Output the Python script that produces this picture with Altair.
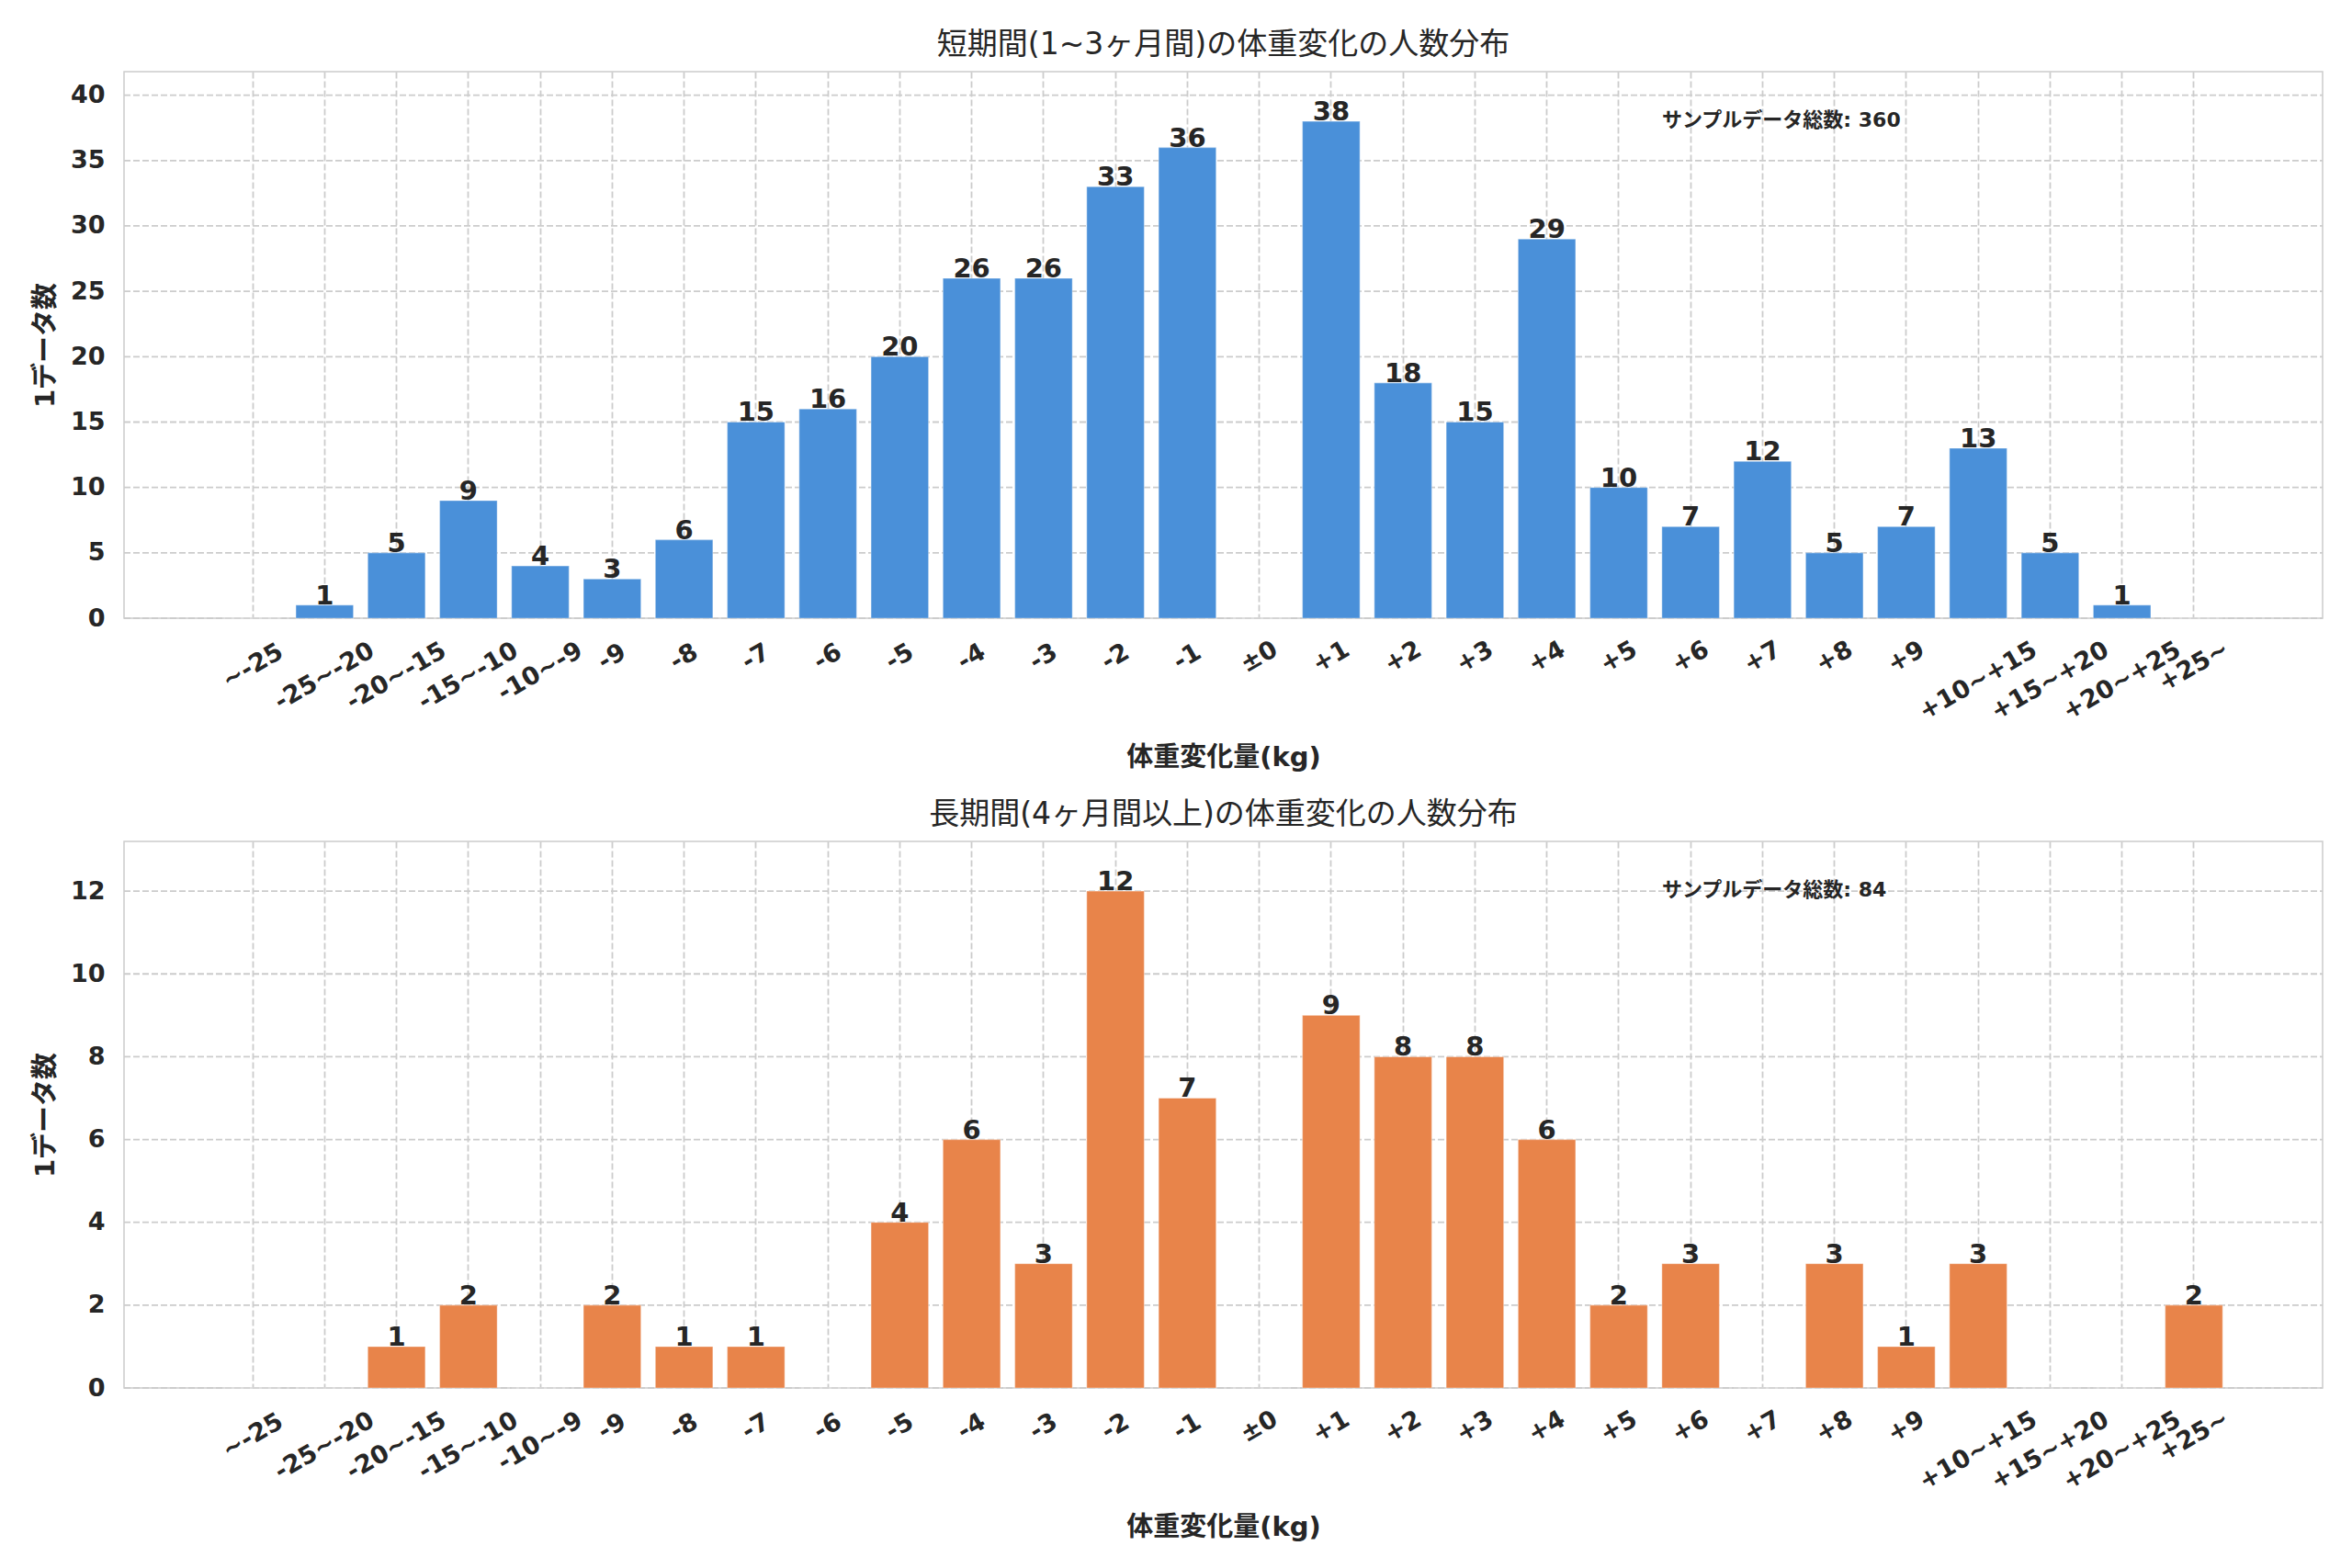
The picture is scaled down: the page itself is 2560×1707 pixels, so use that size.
import altair as alt
import pandas as pd

categories = ["~-25", "-25~-20", "-20~-15", "-15~-10", "-10~-9", "-9", "-8", "-7", "-6",
              "-5", "-4", "-3", "-2", "-1", "±0", "+1", "+2", "+3", "+4", "+5", "+6",
              "+7", "+8", "+9", "+10~+15", "+15~+20", "+20~+25", "+25~"]
short_counts = [0, 1, 5, 9, 4, 3, 6, 15, 16, 20, 26, 26, 33, 36, 0, 38, 18, 15, 29, 10,
                7, 12, 5, 7, 13, 5, 1, 0]
long_counts = [0, 0, 1, 2, 0, 2, 1, 1, 0, 4, 6, 3, 12, 7, 0, 9, 8, 8, 6, 2, 3, 0, 3, 1,
               3, 0, 0, 2]
short_yticks = [0, 5, 10, 15, 20, 25, 30, 35, 40]
long_yticks = [0, 2, 4, 6, 8, 10, 12]
short_title = "短期間(1~3ヶ月間)の体重変化の人数分布"
long_title = "長期間(4ヶ月間以上)の体重変化の人数分布"
x_title = "体重変化量(kg)"
y_title = "1データ数"
note_prefix = "サンプルデータ総数"

FONT = "DejaVu Sans, Noto Sans CJK JP"
TXT = "#262626"
GRID = "#cccccc"
DASH = [7, 3]

PLOT_W = 2393
PLOT_H = 595
# matplotlib-like margins: 5% of the bar span on each side
n_cat = len(categories)
span_steps = (n_cat - 0.2) + 2 * 1.39
x_inset = PLOT_W * (1.39 - 1.0) / span_steps

label_pad = {
    "condition": [
        {"test": "length(datum.label) <= 2", "value": 42},
        {"test": "length(datum.label) <= 4", "value": 52},
        {"test": "length(datum.label) <= 6", "value": 58},
        {"test": "indexof(datum.label, '+') >= 0", "value": 68},
    ],
    "value": 63,
}


def panel(counts, color, title, ymax, yvals):
    df = pd.DataFrame({"cat": categories, "n": counts})
    total = sum(counts)
    yscale = alt.Scale(domain=[0, ymax], nice=False, zero=True)
    x = alt.X(
        "cat:N", sort=categories,
        scale=alt.Scale(paddingInner=0.2, paddingOuter=1.0,
                        range=[x_inset, PLOT_W - x_inset]),
        axis=alt.Axis(title=x_title, labelAngle=-30, labelAlign="center",
                      labelBaseline="middle", labelPadding=label_pad,
                      labelOverlap=False, labelLimit=0, labelFlush=False,
                      grid=True, ticks=False, tickSize=0, domain=False,
                      titlePadding=22),
    )
    y = alt.Y(
        "n:Q", scale=yscale,
        axis=alt.Axis(title=y_title, values=yvals, grid=False, ticks=False, tickSize=0,
                      domain=False, labelPadding=21, titlePadding=12),
    )
    hgrid = alt.Chart(pd.DataFrame({"g": yvals})).mark_rule(
        color=GRID, strokeDash=DASH, strokeWidth=1.8
    ).encode(x=alt.value(0), x2=alt.value(PLOT_W), y=alt.Y("g:Q", scale=yscale))
    base = alt.Chart(df)
    bars = base.mark_bar(color=color, stroke="white", strokeWidth=1.2,
                         strokeOpacity=0.35).encode(x=x, y=y)
    labels = base.transform_filter("datum.n > 0").mark_text(
        baseline="alphabetic", dy=-1, font=FONT, fontSize=29, fontWeight="bold",
        color=TXT,
    ).encode(x=alt.X("cat:N", sort=categories), y=alt.Y("n:Q"), text="n:Q")
    note = alt.Chart(pd.DataFrame({"t": [f"{note_prefix}: {total}"]})).mark_text(
        align="left", baseline="alphabetic", font=FONT, fontSize=22, fontWeight="bold",
        color=TXT,
    ).encode(x=alt.value(1674), y=alt.value(60), text="t:N")
    return alt.layer(hgrid, bars, labels, note).properties(
        width=PLOT_W, height=PLOT_H,
        title=alt.TitleParams(title, font=FONT, fontSize=33, fontWeight="normal",
                              color=TXT, offset=12, anchor="middle"),
    )


top = panel(short_counts, "#4a90d9", short_title, 41.8, short_yticks)
bottom = panel(long_counts, "#e8844a", long_title, 13.2, long_yticks)

chart = alt.vconcat(top, bottom, spacing=30).properties(
    padding={"left": 26, "top": 24, "right": 10, "bottom": 10},
    background="white",
).configure_view(
    stroke=GRID, strokeWidth=1.5
).configure_axis(
    gridColor=GRID, gridDash=DASH, gridWidth=1.8,
    labelFont="DejaVu Sans", labelFontSize=27, labelFontWeight="bold", labelColor=TXT,
    titleFont=FONT, titleFontSize=29, titleFontWeight="bold", titleColor=TXT,
)

chart.save("out.html", embed_options={"renderer": "svg", "actions": False})
